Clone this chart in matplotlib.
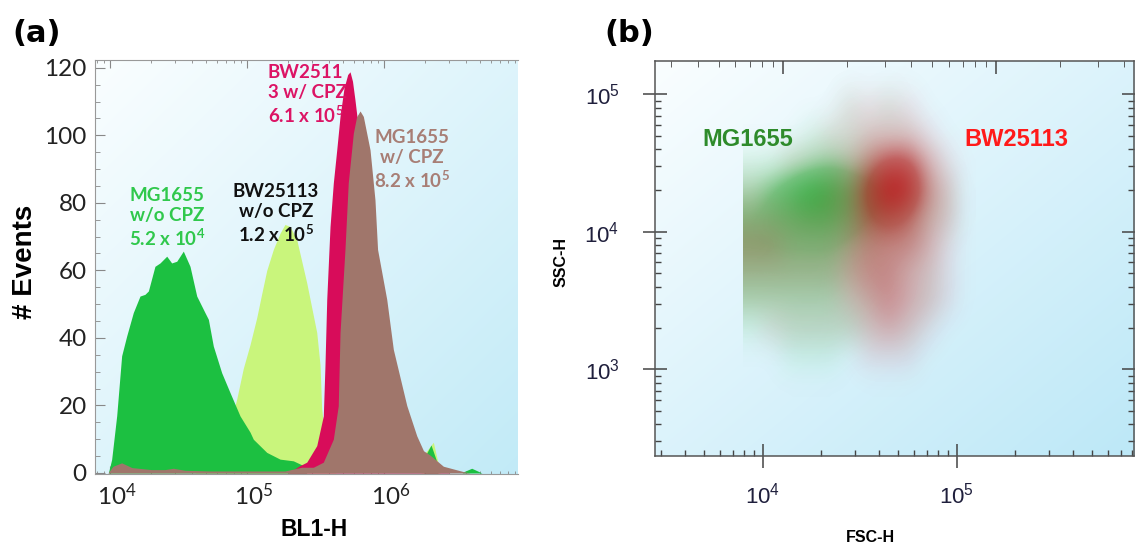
import matplotlib
matplotlib.use("Agg")
import matplotlib.pyplot as plt
import numpy as np
from matplotlib.colors import LinearSegmentedColormap
from matplotlib.ticker import FixedLocator, LogLocator, MultipleLocator, NullFormatter, FuncFormatter
from matplotlib.transforms import ScaledTranslation

W, H = 1135, 546

# ---- panel (a): histograms, x = log10(BL1-H), y = # events
mg_wo_x = [3.988, 4.012, 4.049, 4.085, 4.122, 4.170, 4.219, 4.255, 4.280, 4.328, 4.365,
           4.414, 4.450, 4.487, 4.535, 4.584, 4.633, 4.693, 4.718, 4.754, 4.815, 4.876,
           4.949, 5.022, 5.046, 5.144, 5.241, 5.338, 5.411, 5.436,
           6.29, 6.30, 6.343, 6.38, 6.394, 6.57, 6.577, 6.64, 6.715]
mg_wo_y = [0, 4, 17, 34.7, 40.6, 47.5, 52.4, 52.9, 53.9, 61.2, 62.2,
           64.2, 62.2, 62.7, 65.7, 61.2, 52.4, 47.5, 45.5, 37.6, 29.7, 23.8,
           16.9, 12.1, 10, 6.1, 4.1, 3.6, 2.2, 0,
           0, 5, 8.3, 4, 0, 0, 0.3, 1.4, 0]

bw_wo_x = [4.62, 4.75, 4.85, 4.925, 4.973, 5.022, 5.071, 5.107, 5.144, 5.192, 5.241,
           5.277, 5.314, 5.363, 5.436, 5.509, 5.533, 5.545, 5.57, 5.6, 5.65,
           6.27, 6.282, 6.36, 6.389, 6.41]
bw_wo_y = [0, 3, 10, 21.9, 31, 38, 46, 53, 60, 66.2, 71,
           73.6, 73, 69.1, 56.3, 41.6, 32, 19, 10, 4, 0,
           0, 5, 9.1, 4, 0]

bw_w_x = [5.30, 5.387, 5.436, 5.509, 5.557, 5.569, 5.582, 5.606, 5.630, 5.655, 5.679,
          5.708, 5.735, 5.752, 5.770, 5.788, 5.825, 5.898, 5.971, 6.080, 6.190, 6.336, 6.48]
bw_w_y = [0, 2.2, 3.2, 8.1, 16.9, 31.7, 51.4, 73, 85.9, 95.7, 105.6,
          114, 118, 118.8, 116, 110.5, 98, 75, 50, 22, 8, 2, 0]

mg_w_x = [3.985, 4.022, 4.085, 4.16, 4.304, 4.40, 4.462, 4.547, 4.73, 5.02, 5.277,
          5.399, 5.484, 5.557, 5.630, 5.666, 5.679, 5.715, 5.739, 5.776, 5.80, 5.825,
          5.849, 5.898, 5.934, 5.953, 6.020, 6.068, 6.166, 6.239, 6.288, 6.336, 6.433,
          6.58, 6.63]
mg_w_y = [0, 2, 3.0, 1.6, 1.0, 1.0, 1.4, 0.8, 0.6, 0.6, 0.6,
          1.7, 1.7, 3.2, 10, 19.9, 41.6, 66.2, 85.9, 100.6, 105.5, 107.2,
          105.6, 95.7, 80.9, 66.2, 51.4, 36.6, 20, 11, 6.6, 5.3, 2,
          0.4, 0]

# ---- panel (b): dot density (0-9)
# columns: log10 FSC-H 3.95 .. 4.95 (step 0.1), rows: log10 SSC-H 4.9 .. 3.1 (step 0.2)
fsc_edges = [3.9, 5.0]
ssc_edges = [3.0, 5.0]
mg_density = [
    [0, 0, 0, 0, 0, 1, 0, 1, 0, 0, 0],
    [0, 0, 0, 1, 1, 1, 1, 1, 1, 0, 0],
    [1, 1, 2, 3, 4, 3, 3, 2, 2, 1, 0],
    [3, 5, 7, 9, 9, 8, 6, 5, 4, 2, 1],
    [5, 6, 7, 8, 8, 7, 5, 4, 3, 2, 1],
    [5, 5, 5, 5, 5, 4, 3, 2, 2, 1, 0],
    [4, 4, 4, 4, 4, 3, 2, 2, 1, 1, 0],
    [3, 3, 3, 3, 3, 2, 2, 1, 1, 1, 0],
    [1, 1, 2, 2, 2, 2, 1, 1, 1, 0, 0],
    [0, 0, 1, 1, 1, 0, 0, 0, 0, 0, 0],
]
bw_density = [
    [0, 0, 0, 0, 0, 1, 1, 1, 1, 0, 0],
    [0, 0, 0, 0, 1, 1, 2, 2, 2, 1, 0],
    [0, 0, 1, 1, 1, 2, 4, 6, 6, 3, 1],
    [1, 1, 1, 1, 2, 3, 6, 9, 8, 4, 2],
    [2, 2, 2, 2, 2, 3, 5, 6, 5, 3, 2],
    [3, 3, 2, 2, 2, 3, 4, 4, 4, 3, 1],
    [2, 2, 2, 2, 2, 3, 4, 4, 3, 2, 1],
    [1, 1, 1, 1, 1, 2, 3, 4, 3, 2, 1],
    [0, 1, 1, 1, 1, 1, 2, 3, 2, 1, 0],
    [0, 0, 0, 0, 0, 0, 1, 1, 1, 0, 0],
]

FSC_LIM = (3.4449, 5.914)
SSC_LIM = (2.3695, 5.242)


def px_rect(left, top, right, bottom):
    return [left / W, 1 - bottom / H, (right - left) / W, (bottom - top) / H]


def gradient_bg(fig, rect, c0, c1):
    bg = fig.add_axes(rect, zorder=0)
    u = np.linspace(0, 1, 200)
    uu, vv = np.meshgrid(u, u)
    t = (uu + (1 - vv)) / 2
    img = (1 - t)[..., None] * np.array(c0) + t[..., None] * np.array(c1)
    bg.imshow(img, extent=[0, 1, 0, 1], origin="lower", aspect="auto", interpolation="bilinear")
    bg.set_axis_off()


def dot_cmap(name, rgb_lo, rgb_hi):
    return LinearSegmentedColormap.from_list(
        name, [(0.0, rgb_lo + (0.0,)), (0.25, rgb_lo + (0.30,)), (0.55, rgb_hi + (0.62,)),
               (1.0, rgb_hi + (0.96,))])


def pow10(v, pos):
    return r"$\mathregular{10^{%d}}$" % round(np.log10(v))


fig = plt.figure(figsize=(W / 100, H / 100), dpi=100)

# ================= panel (a)
rect_a = px_rect(95, 60, 518, 474)
gradient_bg(fig, rect_a, (0.98, 0.995, 1.0), (0.76, 0.92, 0.97))
ax = fig.add_axes(rect_a, zorder=1)
ax.set_facecolor("none")
ax.set_xscale("log")

ax.fill_between(10 ** np.array(bw_wo_x), bw_wo_y, 0, color="#c9f57c", lw=0, zorder=1)
ax.fill_between(10 ** np.array(mg_wo_x), mg_wo_y, 0, color="#1cc041", lw=0, zorder=2)
ax.fill_between(10 ** np.array(bw_w_x), bw_w_y, 0, color="#d80c5a", lw=0, zorder=3)
ax.fill_between(10 ** np.array(mg_w_x), mg_w_y, 0, color="#a0766b", lw=0, zorder=4)

ax.set_xlim(10 ** 3.8905, 10 ** 6.978)
ax.set_ylim(-0.3, 122.3)
ax.xaxis.set_major_locator(FixedLocator([1e4, 1e5, 1e6]))
ax.xaxis.set_major_formatter(FuncFormatter(pow10))
ax.xaxis.set_minor_locator(LogLocator(base=10, subs=np.arange(2, 10)))
ax.xaxis.set_minor_formatter(NullFormatter())
ax.yaxis.set_major_locator(FixedLocator(range(0, 121, 20)))
ax.yaxis.set_minor_locator(MultipleLocator(5))
for lab in ax.get_xticklabels() + ax.get_yticklabels():
    lab.set_family("Lato")
    lab.set_fontsize(17.5)
ax.tick_params(which="both", direction="in", colors="#888888", labelcolor="#222222")
ax.tick_params(axis="x", which="major", length=6, top=True, pad=6)
ax.tick_params(axis="x", which="minor", length=2.5, top=True)
ax.tick_params(axis="y", which="major", length=7, pad=6)
ax.tick_params(axis="y", which="minor", length=3.5)
for lab in ax.get_xticklabels():
    lab.set_transform(lab.get_transform() + ScaledTranslation(5 / 72, 0, fig.dpi_scale_trans))
for s in ["left", "bottom", "top"]:
    ax.spines[s].set_color("#999999")
ax.spines["right"].set_visible(False)

txt = dict(family="Lato", weight="bold", fontsize=13.5, ha="center", va="center")
ax.text(10 ** 4.416, 75.6, "MG1655\nw/o CPZ\n5.2 x $\\mathregular{10^{4}}$", color="#30c84c", **txt)
ax.text(10 ** 5.212, 76.8, "BW25113\nw/o CPZ\n1.2 x $\\mathregular{10^{5}}$", color="#111111", **txt)
ax.text(10 ** 6.204, 92.8, "MG1655\nw/ CPZ\n8.2 x $\\mathregular{10^{5}}$", color="#a87e75", **txt)
ax.text(10 ** 5.153, 112.0, "BW2511\n3 w/ CPZ\n6.1 x $\\mathregular{10^{5}}$", color="#dc1465",
        family="Lato", weight="bold", fontsize=13.5, ha="left", va="center", multialignment="left")

fig.text(12 / W, 1 - 33 / H, "(a)", family="DejaVu Sans", weight="bold", fontsize=22, va="center")
fig.text(25 / W, 1 - 262 / H, "# Events", family="Liberation Sans", weight="bold", fontsize=20,
         rotation=90, ha="center", va="center")
fig.text(314 / W, 1 - 530 / H, "BL1-H", family="Liberation Sans", weight="bold", fontsize=16.5,
         ha="center", va="center")

# ================= panel (b)
rect_b = px_rect(655, 61, 1134, 456)
gradient_bg(fig, rect_b, (0.98, 0.995, 1.0), (0.74, 0.91, 0.97))

# dot density drawn on a linear overlay whose units are log10 of the main axes.
# no dots outside the read grid: pad top, bottom and right with one empty cell
# (the left edge of the cloud is a hard cut-off in the original)
step_x = (fsc_edges[1] - fsc_edges[0]) / len(mg_density[0])
step_y = (ssc_edges[1] - ssc_edges[0]) / len(mg_density)
ext = [fsc_edges[0], fsc_edges[1] + step_x, ssc_edges[0] - step_y, ssc_edges[1] + step_y]
pad = ((1, 1), (0, 1))
dx = fig.add_axes(rect_b, zorder=0.5)
dx.imshow(np.pad(np.array(mg_density, float), pad),
          cmap=dot_cmap("g", (0.30, 0.82, 0.42), (0.09, 0.76, 0.24)), vmin=0, vmax=9,
          extent=ext, origin="upper", aspect="auto", interpolation="bicubic")
dx.imshow(np.pad(np.array(bw_density, float), pad),
          cmap=dot_cmap("r", (0.88, 0.22, 0.30), (0.78, 0.04, 0.09)), vmin=0, vmax=9.5,
          extent=ext, origin="upper", aspect="auto", interpolation="bicubic")
dx.set_xlim(*FSC_LIM)
dx.set_ylim(*SSC_LIM)
dx.set_axis_off()

bx = fig.add_axes(rect_b, zorder=1)
bx.set_facecolor("none")
bx.set_xscale("log")
bx.set_yscale("log")
bx.set_xlim(10 ** FSC_LIM[0], 10 ** FSC_LIM[1])
bx.set_ylim(10 ** SSC_LIM[0], 10 ** SSC_LIM[1])
bx.xaxis.set_major_locator(FixedLocator([1e4, 1e5]))
bx.yaxis.set_major_locator(FixedLocator([1e3, 1e4, 1e5]))
bx.xaxis.set_major_formatter(FuncFormatter(pow10))
bx.yaxis.set_major_formatter(FuncFormatter(pow10))
for a in (bx.xaxis, bx.yaxis):
    a.set_minor_locator(LogLocator(base=10, subs=np.arange(2, 10)))
    a.set_minor_formatter(NullFormatter())
for lab in bx.get_xticklabels() + bx.get_yticklabels():
    lab.set_family("Liberation Sans")
    lab.set_fontsize(16)
bx.tick_params(which="both", colors="#444444", labelcolor="#1f1f3c", top=False, right=True)
bx.tick_params(which="major", direction="inout", length=17, width=1.1)
bx.tick_params(axis="y", which="major", pad=17)
bx.tick_params(axis="x", which="major", pad=11)
bx.tick_params(which="minor", direction="in", length=4, width=1.0)
for s in bx.spines.values():
    s.set_color("#555555")
    s.set_linewidth(1.1)

# the top axis of the instrument plot has its own scale
tx = bx.twiny()
tx.set_xscale("log")
tx.set_xlim(10 ** 3.401, 10 ** 5.647)
tx.xaxis.set_major_locator(FixedLocator([1e4, 1e5]))
tx.xaxis.set_minor_locator(LogLocator(base=10, subs=np.arange(2, 10)))
tx.xaxis.set_major_formatter(NullFormatter())
tx.xaxis.set_minor_formatter(NullFormatter())
tx.tick_params(which="both", direction="in", colors="#444444")
tx.tick_params(which="major", length=9, width=1.1)
tx.tick_params(which="minor", length=4)
for s in tx.spines.values():
    s.set_visible(False)

bx.text(10 ** 3.924, 10 ** 4.668, "MG1655", color="#2e8b2b", family="Liberation Sans",
        weight="bold", fontsize=17, ha="center", va="center", zorder=5)
bx.text(10 ** 5.306, 10 ** 4.668, "BW25113", color="#ff1a1a", family="Liberation Sans",
        weight="bold", fontsize=17, ha="center", va="center", zorder=5)

fig.text(604 / W, 1 - 33 / H, "(b)", family="DejaVu Sans", weight="bold", fontsize=22, va="center")
fig.text(561 / W, 1 - 262 / H, "SSC-H", family="Liberation Sans", weight="bold", fontsize=11.5,
         rotation=90, ha="center", va="center")
fig.text(870 / W, 1 - 538 / H, "FSC-H", family="Liberation Sans", weight="bold", fontsize=11.5,
         ha="center", va="center")

fig.savefig("out.png", dpi=100)
